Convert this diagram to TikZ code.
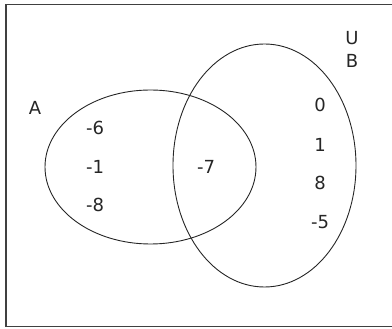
\documentclass[tikz,border=0pt]{standalone}
\usepackage{fontspec}
\setmainfont{DejaVu Sans}
\usetikzlibrary{shapes.geometric}
\begin{document}
\begin{tikzpicture}[x=1pt,y=-1pt,
  lbl/.style={font=\fontsize{18}{20}\selectfont,inner sep=0pt,text=black!85},
  setline/.style={draw=black!85,line width=0.9pt}]
\useasboundingbox (0,0) rectangle (392,329);
\node[draw=black!75,line width=1.6pt,minimum width=392pt,minimum height=322pt,inner sep=0pt] (U) at (202,165.5) {};
\node[setline,ellipse,minimum width=211pt,minimum height=154pt,inner sep=0pt] (A) at (150.5,167) {};
\node[setline,ellipse,minimum width=183pt,minimum height=243pt,inner sep=0pt] (B) at (264.5,165.5) {};
\node[lbl] (la) at (35,108) {A};
\node[lbl] (a1) at (95,128) {-6};
\node[lbl] (a2) at (95,167) {-1};
\node[lbl] (a3) at (95,205) {-8};
\node[lbl] (ab) at (206,167) {-7};
\node[lbl] (b1) at (320,105) {0};
\node[lbl] (b2) at (320,145) {1};
\node[lbl] (b3) at (320,183) {8};
\node[lbl] (b4) at (320,222) {-5};
\node[lbl] (lu) at (352,38) {U};
\node[lbl] (lb) at (352,61) {B};
\end{tikzpicture}
\end{document}
